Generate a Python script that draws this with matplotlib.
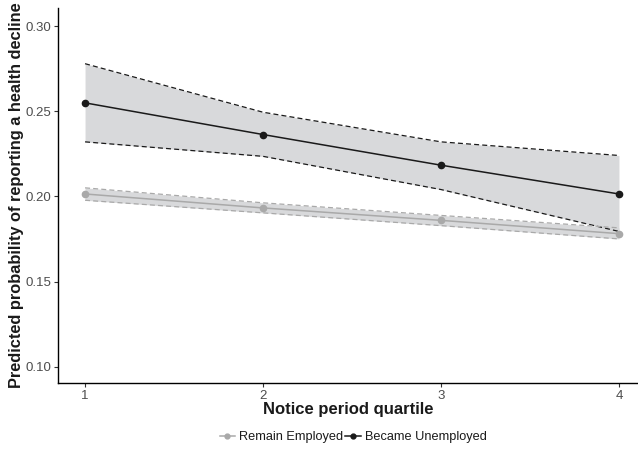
import matplotlib
matplotlib.use("Agg")
import matplotlib.pyplot as plt
from matplotlib.lines import Line2D

plt.rcParams['font.family'] = ['Liberation Sans', 'DejaVu Sans']

quartiles = [1, 2, 3, 4]
remain = [0.2014, 0.1932, 0.1859, 0.1781]
remain_lo = [0.1977, 0.1903, 0.1828, 0.1750]
remain_hi = [0.2050, 0.1962, 0.1888, 0.1815]
unemp = [0.2549, 0.2363, 0.2183, 0.2014]
unemp_lo = [0.2320, 0.2235, 0.2040, 0.1794]
unemp_hi = [0.2779, 0.2494, 0.2320, 0.2240]
yticks = [0.10, 0.15, 0.20, 0.25, 0.30]

fig = plt.figure(figsize=(6.38, 4.49), dpi=100)
ax = fig.add_axes([58/638, 1-383/449, 580/638, 375/449])

fill_col = '#d6d7d9'
ax.fill_between(quartiles, unemp_lo, unemp_hi, color=fill_col, alpha=0.95, lw=0, zorder=1)
ax.fill_between(quartiles, remain_lo, remain_hi, color=fill_col, alpha=0.95, lw=0, zorder=1)

grey = '#a9a9a9'
black = '#1a1a1a'
ax.plot(quartiles, unemp_hi, ls=(0, (4, 2.5)), color=black, lw=0.9, zorder=2)
ax.plot(quartiles, unemp_lo, ls=(0, (4, 2.5)), color=black, lw=0.9, zorder=2)
ax.plot(quartiles, remain_hi, ls=(0, (4, 2.5)), color=grey, lw=0.9, zorder=2)
ax.plot(quartiles, remain_lo, ls=(0, (4, 2.5)), color=grey, lw=0.9, zorder=2)

ax.plot(quartiles, remain, color=grey, lw=1.1, marker='o', ms=4.5, zorder=3)
ax.plot(quartiles, unemp, color=black, lw=1.1, marker='o', ms=4.5, zorder=4)

ax.set_xlim(0.848, 4.107)
ax.set_ylim(0.0904, 0.3106)
ax.set_xticks(quartiles)
ax.set_xticklabels([str(q) for q in quartiles])
ax.set_yticks(yticks)
ax.set_yticklabels([f"{v:.2f}" for v in yticks])
for s in ['top', 'right']:
    ax.spines[s].set_visible(False)
for s in ['left', 'bottom']:
    ax.spines[s].set_linewidth(1.0)
    ax.spines[s].set_color('black')
ax.tick_params(axis='both', length=3, width=0.8, color='#333333', labelsize=9.5, labelcolor='#4d4d4d', pad=2)

ax.set_xlabel('Notice period quartile', fontsize=12, fontweight='bold', color='#1a1a1a', labelpad=0)
ax.set_ylabel('Predicted probability of reporting a health decline', fontsize=11.8, fontweight='bold', color='#1a1a1a')
ax.yaxis.set_label_coords(-0.058, 0.5)

handles = [Line2D([], [], color=grey, lw=1.1, marker='o', ms=3.5),
           Line2D([], [], color=black, lw=1.1, marker='o', ms=3.5)]
fig.legend(handles, ['Remain Employed', 'Became Unemployed'], loc='center', bbox_to_anchor=(353/638, 1-437/449),
           ncol=2, frameon=False, fontsize=9.2, handlelength=1.2, handletextpad=0.3, columnspacing=0.2,
           labelcolor='#1a1a1a')

fig.savefig('out.png', dpi=100)
